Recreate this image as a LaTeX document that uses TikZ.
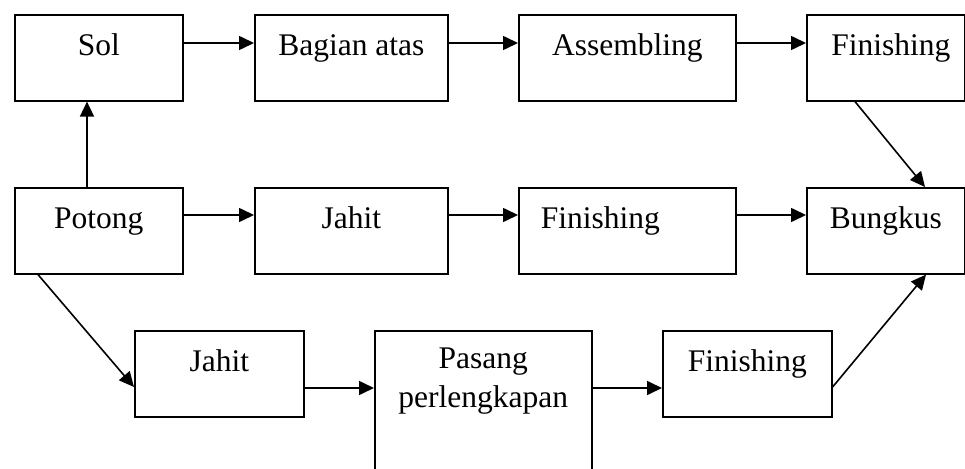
\documentclass[tikz,border=0pt]{standalone}
\usepackage{fontspec}
\setmainfont{Liberation Serif}
\usetikzlibrary{arrows.meta,calc}
\begin{document}
\begin{tikzpicture}[x=1pt,y=-1pt,
  box/.style={draw, line width=1.6pt, inner xsep=0pt, inner ysep=0pt, anchor=north west,
    text height=41pt, text depth=45pt, align=center, minimum height=86pt,
    font=\fontsize{31.5}{39}\selectfont},
  arr/.style={line width=1.6pt, -{Triangle[length=15pt,width=14pt]}}]
\useasboundingbox (0,0) rectangle (965,468);
\clip (0,0) rectangle (965,468);
% row 1
\node[box, minimum width=168pt] (sol) at (14,14) {Sol};
\node[box, minimum width=193pt] (bagian) at (254,14) {Bagian atas};
\node[box, minimum width=217pt] (assem) at (518,14) {Assembling};
\node[box, minimum width=158pt, inner xsep=8pt] (fin1) at (806,14) {\hspace*{10pt}Finishing};
% row 2
\node[box, minimum width=168pt] (potong) at (14,187) {Potong};
\node[box, minimum width=193pt] (jahit1) at (254,187) {Jahit};
\node[box, minimum width=217pt, text width=173pt, inner xsep=22pt, align=left] (fin2) at (518,187) {Finishing};
\node[box, minimum width=158pt] (bungkus) at (806,187) {Bungkus};
% row 3
\node[box, minimum width=169pt] (jahit2) at (134,330) {Jahit};
\node[box, minimum width=217pt, text height=77pt, text depth=120pt] (pasang) at (374,330) {Pasang\\perlengkapan};
\node[box, minimum width=169pt] (fin3) at (662,330) {Finishing};
% guide coordinates
\coordinate (r1) at (0,43);
\coordinate (r2) at (0,215);
\coordinate (r3) at (0,388);
\coordinate (cv) at (87,0);
% connectors
\draw[arr] (sol.east |- r1) -- (bagian.west |- r1);
\draw[arr] (bagian.east |- r1) -- (assem.west |- r1);
\draw[arr] (assem.east |- r1) -- (fin1.west |- r1);
\draw[arr] (potong.north -| cv) -- (sol.south -| cv);
\draw[arr] (potong.east |- r2) -- (jahit1.west |- r2);
\draw[arr] (jahit1.east |- r2) -- (fin2.west |- r2);
\draw[arr] (fin2.east |- r2) -- (bungkus.west |- r2);
\draw[arr] ($(fin1.south west)+(49,0)$) -- ($(bungkus.north west)+(119,0)$);
\draw[arr] ($(potong.south west)+(24,0)$) -- ($(jahit2.north west)+(0,57)$);
\draw[arr] (jahit2.east |- r3) -- (pasang.west |- r3);
\draw[arr] (pasang.east |- r3) -- (fin3.west |- r3);
\draw[arr] ($(fin3.north east)+(0,57)$) -- ($(bungkus.south west)+(120,0)$);
\end{tikzpicture}
\end{document}
